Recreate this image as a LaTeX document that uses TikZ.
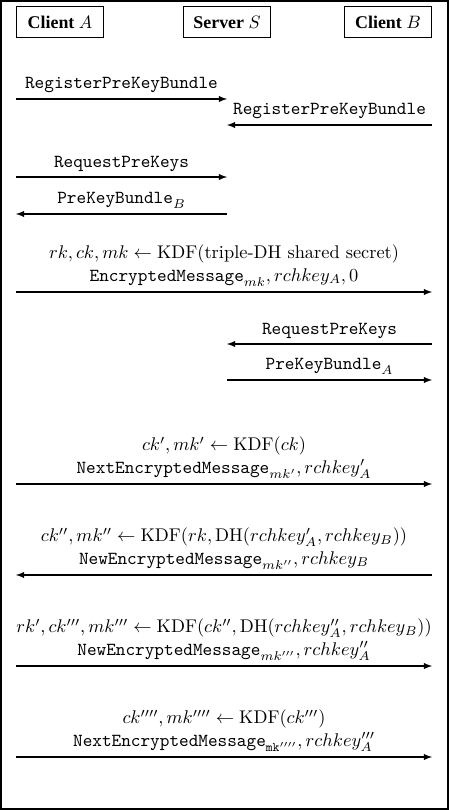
\RequirePackage{fix-cm}
\documentclass[tikz,border=0pt]{standalone}
\usepackage{fontspec}
\usepackage{amsmath}
\usetikzlibrary{positioning}
\newfontfamily\hdfont{Liberation Serif}
\tikzset{
  actor/.style={
    draw,
    semithick,
    minimum width = 1.74cm,
    minimum height = 0.62cm,
    inner sep = 2pt,
    font = \fontsize{10.2pt}{12pt}\selectfont\hdfont\bfseries
  },
  msg/.style={
    semithick,
    -latex
  },
  lbl/.style={
    above,
    align = center,
    inner sep = 3pt,
    font = \fontsize{10.45pt}{12.6pt}\selectfont
  },
}

\begin{document}
\begin{tikzpicture}[x=0.02cm, y=-0.02cm]
    \useasboundingbox (0,0) rectangle (449,810);
    \draw[semithick] (1,1) rectangle (448,809);
    % participants
    \node[actor] (A) at (60,22) {Client $A$};
    \node[actor] (S) at (227,22) {Server $S$};
    \node[actor] (B) at (388,22) {Client $B$};
    % message rows
    \coordinate (r1) at (0,99);
    \coordinate (r2) at (0,125);
    \coordinate (r3) at (0,177);
    \coordinate (r4) at (0,214);
    \coordinate (r5) at (0,292);
    \coordinate (r6) at (0,344);
    \coordinate (r7) at (0,380);
    \coordinate (r8) at (0,484);
    \coordinate (r9) at (0,575);
    \coordinate (r10) at (0,666);
    \coordinate (r11) at (0,757);
    \draw[msg] (A.west |- r1) -- node[lbl] {\texttt{RegisterPreKeyBundle}} (S |- r1);
    \draw[msg] (B.east |- r2) -- node[lbl] {\texttt{RegisterPreKeyBundle}} (S |- r2);
    \draw[msg] (A.west |- r3) -- node[lbl] {\texttt{RequestPreKeys}} (S |- r3);
    \draw[msg] (S |- r4) -- node[lbl] {$\texttt{PreKeyBundle}_B$} (A.west |- r4);
    \draw[msg] (A.west |- r5) -- node[lbl] {$rk, ck, mk \leftarrow \mathrm{KDF}(\text{triple-DH shared secret})$\\
      $\texttt{EncryptedMessage}_{mk}, rchkey_A, 0$} (B.east |- r5);
    \draw[msg] (B.east |- r6) -- node[lbl] {\texttt{RequestPreKeys}} (S |- r6);
    \draw[msg] (S |- r7) -- node[lbl] {$\texttt{PreKeyBundle}_A$} (B.east |- r7);
    \draw[msg] (A.west |- r8) -- node[lbl] {$ck', mk' \leftarrow \mathrm{KDF}(ck)$\\
      $\texttt{NextEncryptedMessage}_{mk'}, rchkey'_A$} (B.east |- r8);
    \draw[msg] (B.east |- r9) -- node[lbl] {$ck'', mk'' \leftarrow \mathrm{KDF}(rk, \mathrm{DH}(rchkey'_A, rchkey_B))$\\
      $\texttt{NewEncryptedMessage}_{mk''}, rchkey_B$} (A.west |- r9);
    \draw[msg] (A.west |- r10) -- node[lbl] {$rk', ck''', mk''' \leftarrow \mathrm{KDF}(ck'', \mathrm{DH}(rchkey''_A, rchkey_B))$\\
      $\texttt{NewEncryptedMessage}_{mk'''}, rchkey''_A$} (B.east |- r10);
    \draw[msg] (A.west |- r11) -- node[lbl] {$ck'''', mk'''' \leftarrow \mathrm{KDF}(ck''')$\\
      $\texttt{NextEncryptedMessage}_{\mathtt{mk}''''}, rchkey'''_A$} (B.east |- r11);
\end{tikzpicture}
\end{document}
